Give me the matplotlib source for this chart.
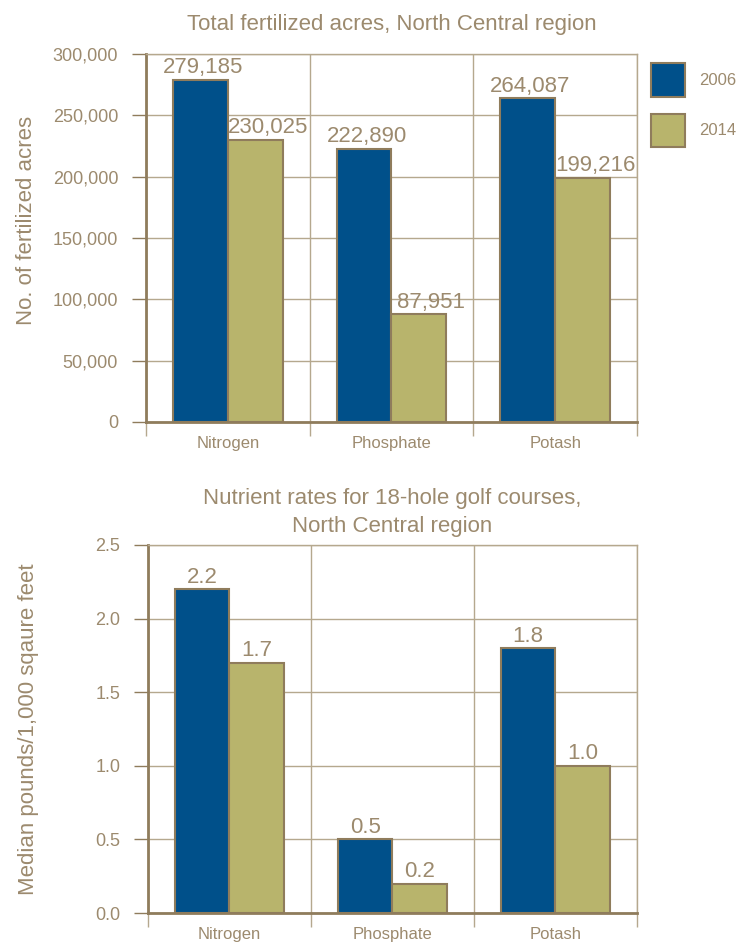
import numpy as np
import matplotlib
matplotlib.use('Agg')
import matplotlib.pyplot as plt
from matplotlib.patches import Patch

# === Data ===
nutrients = ["Nitrogen", "Phosphate", "Potash"]
years = ["2006", "2014"]
acres_2006 = [279185, 222890, 264087]
acres_2014 = [230025, 87951, 199216]
rates_2006 = [2.2, 0.5, 1.8]
rates_2014 = [1.7, 0.2, 1.0]

BLUE = '#00508a'
OLIVE = '#b8b46c'
EDGE = '#8f7c5c'
TXT = '#9c8a6e'
GRID = '#b5a88e'

plt.rcParams['font.family'] = ['Liberation Sans', 'DejaVu Sans']

fig = plt.figure(figsize=(7.47, 9.43), dpi=100)
ax1 = fig.add_axes([0.1954, 0.5525, 0.6573, 0.3902])
ax2 = fig.add_axes([0.1981, 0.0318, 0.6546, 0.3903])


def draw(ax, v1, v2, ymax, step, fmt, title, ylabel, tpad, ly, shift):
    x = np.arange(len(nutrients))
    w = 0.335
    b1 = ax.bar(x - w / 2, v1, w, color=BLUE, edgecolor=EDGE, lw=1.5, zorder=3)
    b2 = ax.bar(x + w / 2, v2, w, color=OLIVE, edgecolor=EDGE, lw=1.5, zorder=3)
    for bars, vals, dx in ((b1, v1, shift[0]), (b2, v2, shift[1])):
        for r, v in zip(bars, vals):
            ax.annotate(fmt(v), (r.get_x() + r.get_width() / 2, v), xytext=(dx, 1),
                        textcoords='offset points', ha='center', va='bottom',
                        fontsize=16, color=TXT, zorder=4)
    ax.set_xlim(-0.5, 2.5)
    ax.set_ylim(0, ymax)
    ax.set_yticks(np.arange(0, ymax + step / 2, step))
    ax.set_yticklabels([fmt(t) for t in ax.get_yticks()])
    ax.set_xticks(x)
    ax.set_xticklabels(nutrients)
    ax.set_xticks([-0.5, 0.5, 1.5, 2.5], minor=True)
    ax.tick_params(axis='x', which='major', length=0, labelsize=12, labelcolor=TXT, pad=10)
    ax.tick_params(axis='x', which='minor', length=10, width=1, color=GRID)
    ax.tick_params(axis='y', length=10, width=1, color=EDGE, labelsize=13, labelcolor=TXT, pad=10)
    ax.grid(axis='y', color=GRID, lw=1, zorder=0)
    ax.grid(axis='x', which='minor', color=GRID, lw=1, zorder=0)
    for s in ('top', 'right'):
        ax.spines[s].set_color(GRID)
        ax.spines[s].set_linewidth(1)
    for s in ('left', 'bottom'):
        ax.spines[s].set_color(EDGE)
        ax.spines[s].set_linewidth(2)
    ax.set_title(title, color=TXT, fontsize=16, pad=tpad, linespacing=1.45)
    ax.set_ylabel(ylabel, color=TXT, fontsize=16)
    ax.yaxis.set_label_coords(-0.222, ly)


draw(ax1, acres_2006, acres_2014, 300000, 50000, lambda v: f"{v:,.0f}",
     "Total fertilized acres, North Central region", "No. of fertilized acres",
     tpad=17, ly=0.549, shift=(2, 9))
draw(ax2, rates_2006, rates_2014, 2.5, 0.5, lambda v: f"{v:.1f}",
     "Nutrient rates for 18-hole golf courses,\nNorth Central region",
     "Median pounds/1,000 sqaure feet", tpad=9, ly=0.5, shift=(0, 0))

handles = [Patch(facecolor=BLUE, edgecolor=EDGE, lw=1.5),
           Patch(facecolor=OLIVE, edgecolor=EDGE, lw=1.5)]
leg = ax1.legend(handles, years, loc='upper left', bbox_to_anchor=(1.028, 0.976),
                 frameon=False, fontsize=12, labelcolor=TXT, borderpad=0, borderaxespad=0,
                 handlelength=2.05, handleheight=2.76, labelspacing=1.0, handletextpad=0.85)

plt.savefig('out.png', dpi=100)
plt.close()
